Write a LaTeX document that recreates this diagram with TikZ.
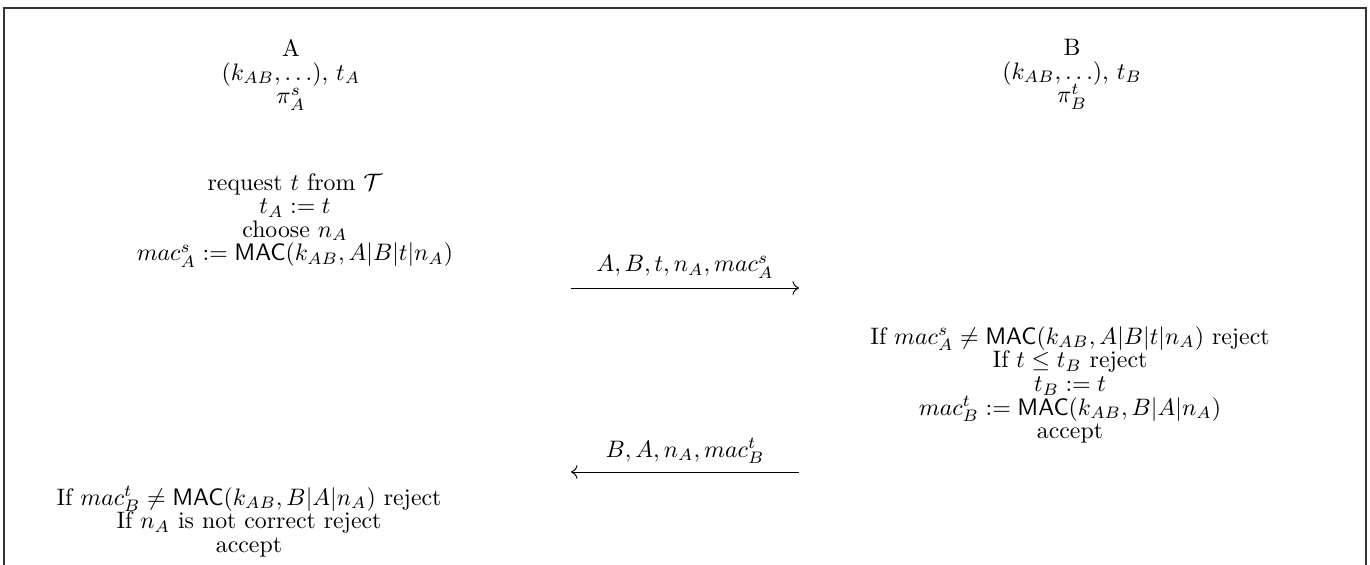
\documentclass[tikz,border=0pt]{standalone}
\usepackage{amsmath,amssymb}
\usetikzlibrary{arrows.meta}
% fixed 9.9pt baselines inside every block
\newcommand\steplines{\fontsize{10}{9.9}\selectfont\lineskiplimit=-100pt\relax}
\begin{document}
\begin{tikzpicture}[x=0.42pt,y=-0.42pt,
  every node/.style={font=\steplines},
  txt/.style={align=center,inner sep=0pt,anchor=north},
  lbl/.style={inner sep=0pt,anchor=base},
  msg/.style={-{To[scale=1.1]},line width=0.4pt}]
\useasboundingbox (0,0) rectangle (1370,565);
% open frame around the protocol
\draw[line width=0.65pt,black!80] (4,565) -- (4,8) -- (1366,8) -- (1366,565);

% party A
\node[txt] (Ahead) at (291,39) {A\\ $(k_{AB},\ldots)$, $t_A$\\ $\pi_A^s$};
\node[txt] (Astep) at (295,173) {request $t$ from $\mathcal{T}$\\ $t_A := t$\\ choose $n_A$\\
  $mac_A^s := \mathsf{MAC}(k_{AB},A|B|t|n_A)$};
\node[txt] (Acheck) at (249,486) {If $mac_B^t \neq \mathsf{MAC}(k_{AB},B|A|n_A)$ reject\\
  If $n_A$ is not correct reject\\ accept};

% party B
\node[txt] (Bhead) at (1072,39) {B\\ $(k_{AB},\ldots)$, $t_B$\\ $\pi_B^t$};
\node[txt] (Bcheck) at (1070,326) {If $mac_A^s \neq \mathsf{MAC}(k_{AB},A|B|t|n_A)$ reject\\
  If $t \leq t_B$ reject\\ $t_B := t$\\ $mac_B^t := \mathsf{MAC}(k_{AB},B|A|n_A)$\\ accept};

% messages
\coordinate (m1s) at (571,288);
\coordinate (m1e) at (799,288);
\coordinate (m2s) at (799,472);
\coordinate (m2e) at (571,472);
\node[lbl] (m1) at (685,272) {$A,B,t,n_A,mac_A^s$};
\node[lbl] (m2) at (685,457) {$B,A,n_A,mac_B^t$};
\draw[msg] (m1s) -- (m1e);
\draw[msg] (m2s) -- (m2e);
\end{tikzpicture}
\end{document}
